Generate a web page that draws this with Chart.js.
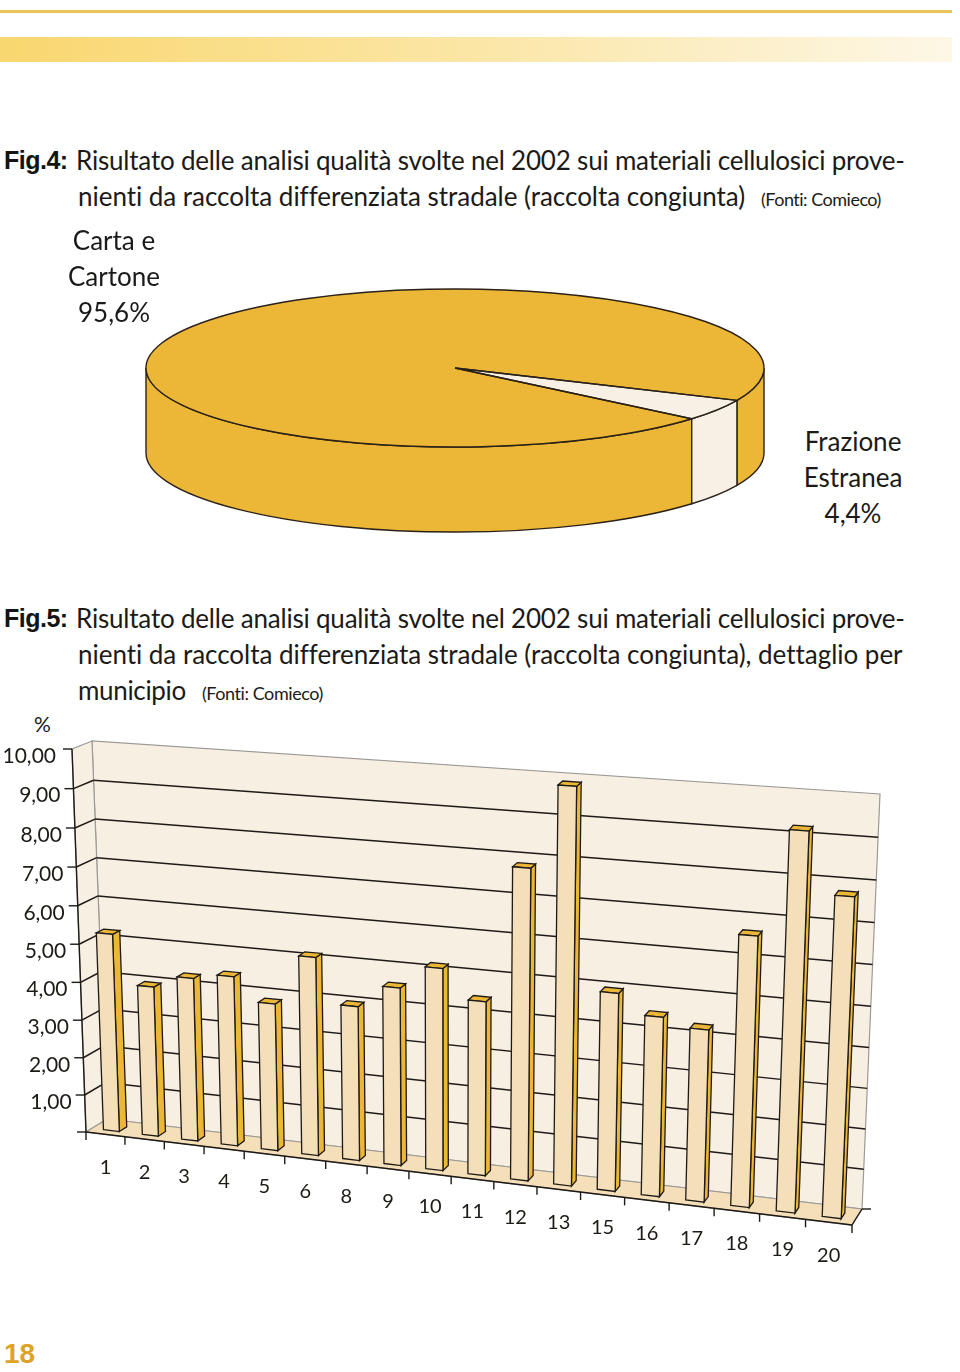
<!DOCTYPE html>
<html lang="it">
<head>
<meta charset="utf-8">
<title>Fig.4 - Fig.5</title>
<script src="https://cdn.jsdelivr.net/npm/chart.js@4"></script>
<style>
html, body { margin: 0; padding: 0; background: #fff; }
#page { position: relative; width: 960px; height: 1372px; overflow: hidden; font-family: Lato, sans-serif; color: #1c1a18; }
#page div, #page canvas { position: absolute; }
.riga { font-size: 26px; line-height: 36px; white-space: nowrap; }
.fonti { font-size: 18px; line-height: 36px; white-space: nowrap; }
.fig { font-family: "Liberation Sans", sans-serif; font-weight: bold; font-size: 25px; line-height: 36px; letter-spacing: -0.5px; color: #141414; }
.etichetta { font-size: 26px; line-height: 36px; text-align: center; width: 110px; }
#filetto { left: 0; top: 10px; width: 952px; height: 3px; background: #e8c65c; }
#fascia { left: 0; top: 37px; width: 952px; height: 25px; background: linear-gradient(to right, #f9d76f, #fbe6a6 50%, #fdf7e6); }
#numero { left: 4px; top: 1336px; font-family: "Liberation Sans", sans-serif; font-weight: bold; font-size: 28px; line-height: 36px; color: #dfa228; }
#perc { left: 34px; top: 706px; font-size: 21px; line-height: 36px; }
</style>
</head>
<body>
<div id="page">
  <div id="filetto"></div>
  <div id="fascia"></div>

  <div class="fig" style="left:4px;top:142px">Fig.4:</div>
  <div class="riga" data-w="829" style="left:76px;top:142px">Risultato delle analisi qualità svolte nel 2002 sui materiali cellulosici prove-</div>
  <div class="riga" data-w="667" style="left:78px;top:178px">nienti da raccolta differenziata stradale (raccolta congiunta)</div>
  <div class="fonti" data-w="120" style="left:761px;top:181px">(Fonti: Comieco)</div>

  <canvas id="chartTorta" width="640" height="300" style="left:135px;top:248px"></canvas>
  <div id="labelCarta" class="etichetta" style="left:59px;top:222px"></div>
  <div id="labelFrazione" class="etichetta" style="left:798px;top:423px"></div>

  <div class="fig" style="left:4px;top:600px">Fig.5:</div>
  <div class="riga" data-w="829" style="left:76px;top:600px">Risultato delle analisi qualità svolte nel 2002 sui materiali cellulosici prove-</div>
  <div class="riga" data-w="823" style="left:78px;top:636px">nienti da raccolta differenziata stradale (raccolta congiunta), dettaglio per</div>
  <div class="riga" data-w="108" style="left:78px;top:672px">municipio</div>
  <div class="fonti" data-w="121" style="left:202px;top:675px">(Fonti: Comieco)</div>

  <div id="perc">%</div>
  <canvas id="chartMunicipi" width="960" height="620" style="left:0;top:700px"></canvas>

  <div id="numero">18</div>
</div>

<script>
// dati fig.4
const tortaLabels = ['Carta e Cartone', 'Frazione Estranea'];
const tortaValori = [95.6, 4.4];
const tortaColori = ['#ecb736', '#f8f0e4'];

// dati fig.5
const municipi = ['1', '2', '3', '4', '5', '6', '8', '9', '10', '11', '12', '13', '15', '16', '17', '18', '19', '20'];
const valoriMunicipi = [5.25, 3.97, 4.3, 4.45, 3.85, 5.15, 4.0, 4.58, 5.18, 4.45, 7.85, 9.9, 4.98, 4.5, 4.3, 6.68, 9.25, 7.8];
const asseMax = 10;
const asseStep = 1;

const virgola = (v, dec) => v.toFixed(dec).replace('.', ',');

// etichette torta
document.getElementById('labelCarta').innerHTML = 'Carta e<br>Cartone<br>' + virgola(tortaValori[0], 1) + '%';
document.getElementById('labelFrazione').innerHTML = 'Frazione<br>Estranea<br>' + virgola(tortaValori[1], 1) + '%';

// adatto la larghezza delle righe di testo
document.querySelectorAll('[data-w]').forEach(el => {
    const n = el.textContent.length;
    el.style.letterSpacing = ((el.dataset.w - el.offsetWidth) / n) + 'px';
});

// torta 3D: schiaccio gli archi di chart.js in un ellisse
const rx = 309, ry = 79, spessore = 85;
const torta3d = {
    id: 'torta3d',
    beforeDatasetsDraw(chart) {
        const ctx = chart.ctx;
        const archi = chart.getDatasetMeta(0).data;
        const cx = archi[0].x, cy = archi[0].y;
        ctx.save();
        ctx.lineWidth = 1.4;
        ctx.strokeStyle = '#2a2118';
        // parete laterale, solo la metà davanti
        archi.forEach(arco => {
            [0, -2 * Math.PI].forEach(shift => {
                const a = Math.max(arco.startAngle + shift, 0);
                const b = Math.min(arco.endAngle + shift, Math.PI);
                if (b <= a) return;
                ctx.beginPath();
                ctx.ellipse(cx, cy, rx, ry, 0, a, b);
                ctx.ellipse(cx, cy + spessore, rx, ry, 0, b, a, true);
                ctx.closePath();
                ctx.fillStyle = arco.options.backgroundColor;
                ctx.fill();
                ctx.stroke();
            });
        });
        ctx.restore();
        ctx.save();
        ctx.translate(cx, cy);
        ctx.scale(rx / archi[0].outerRadius, ry / archi[0].outerRadius);
        ctx.translate(-cx, -cy);
    },
    afterDatasetsDraw(chart) {
        const ctx = chart.ctx;
        ctx.restore();
        const archi = chart.getDatasetMeta(0).data;
        const cx = archi[0].x, cy = archi[0].y;
        ctx.save();
        ctx.lineWidth = 1.4;
        ctx.strokeStyle = '#2a2118';
        archi.forEach(arco => {
            ctx.beginPath();
            ctx.moveTo(cx, cy);
            ctx.ellipse(cx, cy, rx, ry, 0, arco.startAngle, arco.endAngle);
            ctx.closePath();
            ctx.stroke();
        });
        ctx.restore();
    }
};

new Chart(document.getElementById('chartTorta').getContext('2d'), {
    type: 'pie',
    data: {
        labels: tortaLabels,
        datasets: [{ data: tortaValori, backgroundColor: tortaColori, borderWidth: 0 }]
    },
    options: {
        responsive: false,
        animation: false,
        rotation: 130,
        layout: { padding: { top: 0, bottom: 60 } },
        plugins: { legend: { display: false }, tooltip: { enabled: false } }
    },
    plugins: [torta3d]
});

// prospettiva delle barre: piano davanti e piano dietro (coordinate del canvas)
const topCanvas = 700;
const pianoFront = [[86, 1132], [852, 1225], [870, 807], [72, 749]];
const pianoBack = [[107, 1119], [862, 1209], [880, 794], [92, 741]];

function omografia(q) {
    const [[x0, y0], [x1, y1], [x2, y2], [x3, y3]] = q.map(p => [p[0], p[1] - topCanvas]);
    const dx1 = x1 - x2, dx2 = x3 - x2, sx = x0 - x1 + x2 - x3;
    const dy1 = y1 - y2, dy2 = y3 - y2, sy = y0 - y1 + y2 - y3;
    const den = dx1 * dy2 - dx2 * dy1;
    const g = (sx * dy2 - dx2 * sy) / den;
    const h = (dx1 * sy - sx * dy1) / den;
    const a = x1 - x0 + g * x1, b = x3 - x0 + h * x3;
    const d = y1 - y0 + g * y1, e = y3 - y0 + h * y3;
    return (u, v) => {
        const k = g * u + h * v + 1;
        return [(a * u + b * v + x0) / k, (d * u + e * v + y0) / k];
    };
}
const homFront = omografia(pianoFront);
const homBack = omografia(pianoBack);

// u lungo l'asse x, v altezza, w profondità (0 davanti, 1 dietro)
function proietta(u, v, w) {
    const f = homFront(u, v), b = homBack(u, v);
    return [f[0] + (b[0] - f[0]) * w, f[1] + (b[1] - f[1]) * w];
}

function poligono(ctx, punti, fill, stroke, lw) {
    ctx.beginPath();
    punti.forEach((p, i) => i ? ctx.lineTo(p[0], p[1]) : ctx.moveTo(p[0], p[1]));
    ctx.closePath();
    if (fill) { ctx.fillStyle = fill; ctx.fill(); }
    if (stroke) { ctx.strokeStyle = stroke; ctx.lineWidth = lw; ctx.stroke(); }
}

function linea(ctx, a, b, colore, lw) {
    ctx.beginPath();
    ctx.moveTo(a[0], a[1]);
    ctx.lineTo(b[0], b[1]);
    ctx.strokeStyle = colore;
    ctx.lineWidth = lw;
    ctx.stroke();
}

const coloreParete = '#f8efe3', colorePavimento = '#f5dfb8', coloreGrigio = '#9c9a96', coloreNero = '#1e1a16';
const wBarraDa = 0.29, wBarraA = 0.65;

const barre3d = {
    id: 'barre3d',
    // disegno pareti, griglia e assi dalle scale
    beforeDatasetsDraw(chart) {
        const ctx = chart.ctx, sx = chart.scales.x, sy = chart.scales.y;
        const vVal = val => (sy.bottom - sy.getPixelForValue(val)) / sy.height;
        const uPx = px => (px - sx.left) / sx.width;

        poligono(ctx, [proietta(0, 0, 1), proietta(1, 0, 1), proietta(1, 1, 1), proietta(0, 1, 1)], coloreParete, coloreGrigio, 1.2);
        poligono(ctx, [proietta(0, 0, 0), proietta(0, 0, 1), proietta(0, 1, 1), proietta(0, 1, 0)], coloreParete, coloreGrigio, 1.2);
        poligono(ctx, [proietta(0, 0, 0), proietta(1, 0, 0), proietta(1, 0, 1), proietta(0, 0, 1)], colorePavimento, coloreGrigio, 1.2);

        // griglia + tacche + etichette asse y (lo zero non ha etichetta)
        ctx.font = '21px Lato, sans-serif';
        ctx.textAlign = 'right';
        ctx.textBaseline = 'middle';
        sy.ticks.forEach(t => {
            const v = vVal(t.value);
            const p0 = proietta(0, v, 0);
            linea(ctx, [p0[0] - 9, p0[1]], p0, coloreNero, 1.4);
            if (t.value === 0) return;
            ctx.fillStyle = coloreNero;
            ctx.fillText(t.label, p0[0] - (t.value === asseMax ? 16 : 13), p0[1] + 7);
            if (t.value === asseMax) return;
            linea(ctx, p0, proietta(0, v, 1), coloreNero, 1.5);
            linea(ctx, proietta(0, v, 1), proietta(1, v, 1), coloreNero, 1.5);
        });

        // asse y, asse x, spigolo destro del pavimento
        linea(ctx, proietta(0, 0, 0), proietta(0, 1, 0), coloreNero, 1.4);
        linea(ctx, proietta(0, 0, 0), proietta(1, 0, 0), coloreNero, 1.6);
        linea(ctx, proietta(1, 0, 0), proietta(1, 0, 1), coloreNero, 1.4);
        const fineZ = proietta(1, 0, 1);
        linea(ctx, fineZ, [fineZ[0] + 9, fineZ[1]], coloreNero, 1.4);

        // tacche + etichette asse x
        const banda = sx.width / sx.ticks.length;
        ctx.font = '20px Lato, sans-serif';
        ctx.textAlign = 'center';
        linea(ctx, proietta(0, 0, 0), [proietta(0, 0, 0)[0], proietta(0, 0, 0)[1] + 8], coloreNero, 1.4);
        sx.ticks.forEach((t, i) => {
            const px = sx.getPixelForTick(i);
            const fine = proietta(uPx(px + banda / 2), 0, 0);
            linea(ctx, fine, [fine[0], fine[1] + 8], coloreNero, 1.4);
            const c = proietta(uPx(px), 0, 0);
            ctx.fillStyle = coloreNero;
            ctx.fillText(t.label, c[0], c[1] + 33);
        });
    },
    // al posto della barra piatta disegno le tre facce
    beforeDatasetDraw(chart, args) {
        const ctx = chart.ctx, sx = chart.scales.x, sy = chart.scales.y;
        const uPx = px => (px - sx.left) / sx.width;
        const vPx = px => (sy.bottom - px) / sy.height;
        chart.getDatasetMeta(args.index).data.forEach(bar => {
            const u0 = uPx(bar.x - bar.width / 2), u1 = uPx(bar.x + bar.width / 2);
            const v0 = vPx(bar.base), v1 = vPx(bar.y);
            const fronte = bar.options.backgroundColor, fianco = bar.options.borderColor;
            poligono(ctx, [proietta(u1, v0, wBarraDa), proietta(u1, v0, wBarraA), proietta(u1, v1, wBarraA), proietta(u1, v1, wBarraDa)], fianco, coloreNero, 1.3);
            poligono(ctx, [proietta(u0, v1, wBarraDa), proietta(u1, v1, wBarraDa), proietta(u1, v1, wBarraA), proietta(u0, v1, wBarraA)], fianco, coloreNero, 1.3);
            poligono(ctx, [proietta(u0, v0, wBarraDa), proietta(u1, v0, wBarraDa), proietta(u1, v1, wBarraDa), proietta(u0, v1, wBarraDa)], fronte, coloreNero, 1.3);
        });
        return false;
    }
};

new Chart(document.getElementById('chartMunicipi').getContext('2d'), {
    type: 'bar',
    data: {
        labels: municipi,
        datasets: [{
            label: '%',
            data: valoriMunicipi,
            backgroundColor: '#f5dfb8',
            borderColor: '#ecb736',
            barPercentage: 0.41,
            categoryPercentage: 1
        }]
    },
    options: {
        responsive: false,
        animation: false,
        scales: {
            x: { display: false },
            y: {
                display: false,
                min: 0,
                max: asseMax,
                ticks: { stepSize: asseStep, callback: v => virgola(v, 2) }
            }
        },
        plugins: { legend: { display: false }, tooltip: { enabled: false } }
    },
    plugins: [barre3d]
});
</script>
</body>
</html>
